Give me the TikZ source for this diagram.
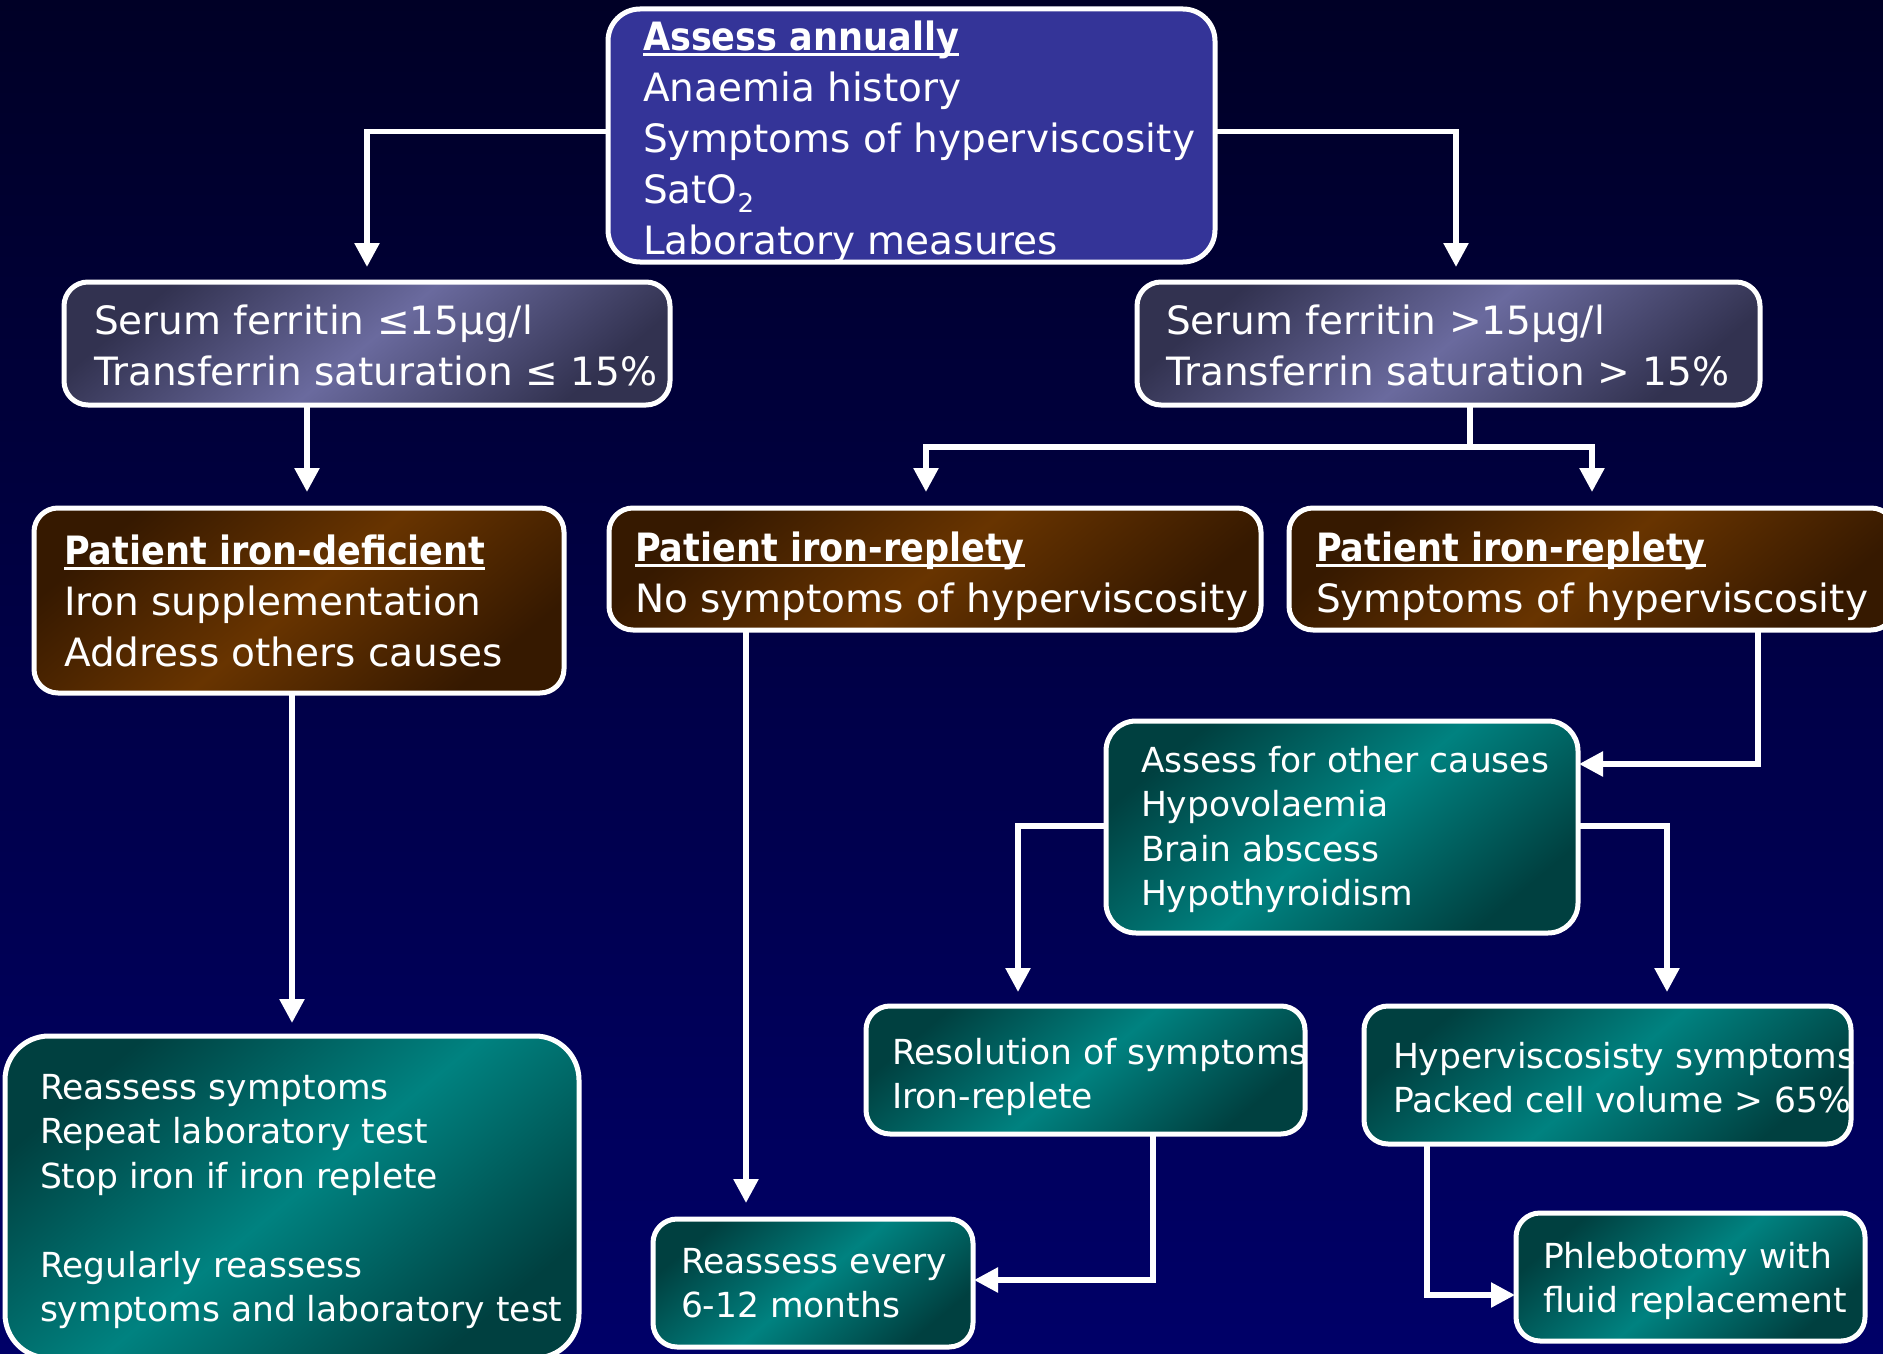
\documentclass[tikz,border=0pt]{standalone}
\usepackage{fontspec}
\usepackage{graphicx}
\setmainfont{DejaVu Sans}
\usetikzlibrary{arrows.meta,calc}
\newcommand\myul[1]{\setbox0\hbox{\scalebox{0.9}[1]{\bfseries #1}}\rlap{\rule[-6pt]{\wd0}{3pt}}\box0}
\newcommand\fbig{\fontsize{39}{51}\selectfont}
\newcommand\fsmall{\fontsize{34.5}{44.5}\selectfont}
\newcommand\subtwo{\raisebox{-9pt}{\fontsize{26}{26}\selectfont 2}}
\definecolor{bgtop}{RGB}{0,0,38}
\definecolor{bgbot}{RGB}{0,0,104}
\definecolor{topblue}{RGB}{52,52,152}
\definecolor{lavL}{RGB}{106,106,158}
\definecolor{lavD}{RGB}{50,50,80}
\definecolor{brL}{RGB}{104,52,0}
\definecolor{brD}{RGB}{54,25,0}
\definecolor{tlL}{RGB}{0,130,128}
\definecolor{tlD}{RGB}{0,64,64}
\begin{document}
\begin{tikzpicture}[x=1pt,y=-1pt,
  box/.style={draw=white, line width=5pt, rounded corners=24pt, anchor=north west, inner sep=0pt, outer sep=0pt},
  flatblue/.style={fill=topblue},
  lav/.style={top color=lavD, bottom color=lavD, middle color=lavL, shading angle=40},
  brn/.style={top color=brD, bottom color=brD, middle color=brL, shading angle=40},
  teal/.style={top color=tlD, bottom color=tlD, middle color=tlL, shading angle=40},
  txt/.style={anchor=north west, inner sep=0pt, outer sep=0pt, align=left, text=white},
  ln/.style={draw=white, line width=5.5pt, line join=miter},
  arr/.style={ln, -{Triangle[length=24pt,width=24pt]}}]

\shade[top color=bgtop, bottom color=bgbot] (0,0) rectangle (1883,1354);
\useasboundingbox (0,0) rectangle (1883,1354);

% boxes
\node[box,flatblue,rounded corners=32pt,minimum width=607pt,minimum height=253pt] (top) at (608,9) {};
\node[box,lav,minimum width=606pt,minimum height=123pt] (fl) at (64,282) {};
\node[box,lav,minimum width=623pt,minimum height=123pt] (fr) at (1137,282) {};
\node[box,brn,minimum width=530pt,minimum height=185pt] (idef) at (34,508) {};
\node[box,brn,minimum width=652pt,minimum height=122pt] (ir1) at (609,508) {};
\node[box,brn,minimum width=606pt,minimum height=122pt] (ir2) at (1289,508) {};
\node[box,teal,rounded corners=30pt,minimum width=472pt,minimum height=212pt] (aoc) at (1106,721) {};
\node[box,teal,minimum width=439pt,minimum height=128pt] (res) at (866,1006) {};
\node[box,teal,minimum width=487pt,minimum height=138pt] (hv) at (1364,1006) {};
\node[box,teal,rounded corners=44pt,minimum width=574pt,minimum height=322pt] (big) at (5,1036) {};
\node[box,teal,minimum width=320pt,minimum height=128pt] (rev) at (653,1219) {};
\node[box,teal,minimum width=349pt,minimum height=128pt] (phl) at (1516,1213) {};

% texts
\node[txt,font=\fbig] (topt) at (643,14.3) {\strut\myul{Assess annually}\\Anaemia history\\Symptoms of hyperviscosity\\SatO\subtwo\\Laboratory measures};
\node[txt,font=\fbig] (flt) at (94,298.3) {\strut Serum ferritin ≤15µg/l\\Transferrin saturation ≤ 15\%};
\node[txt,font=\fbig] (frt) at (1166,298.3) {\strut Serum ferritin >15µg/l\\Transferrin saturation > 15\%};
\node[txt,font=\fbig] (ideft) at (64,528.3) {\strut\myul{Patient iron-deficient}\\Iron supplementation\\Address others causes};
\node[txt,font=\fbig] (ir1t) at (635,525.3) {\strut\myul{Patient iron-replety}\\No symptoms of hyperviscosity};
\node[txt,font=\fbig] (ir2t) at (1316,525.3) {\strut\myul{Patient iron-replety}\\Symptoms of hyperviscosity};
\node[txt,font=\fsmall] (aoct) at (1141,740.9) {\strut Assess for other causes\\Hypovolaemia\\Brain abscess\\Hypothyroidism};
\node[txt,font=\fsmall] (rest) at (892,1032.9) {\strut Resolution of symptoms\\Iron-replete};
\node[txt,font=\fsmall] (hvt) at (1393,1036.9) {\strut Hyperviscosisty symptoms\\Packed cell volume > 65\%};
\node[txt,font=\fsmall] (bigt) at (40,1067.9) {\strut Reassess symptoms\\Repeat laboratory test\\Stop iron if iron replete\\[44.5pt]Regularly reassess\\symptoms and laboratory test};
\node[txt,font=\fsmall] (revt) at (681,1241.9) {\strut Reassess every\\6-12 months};
\node[txt,font=\fsmall] (phlt) at (1543,1236.9) {\strut Phlebotomy with\\fluid replacement};

% connectors
\coordinate (j1) at (1470,447);
\draw[arr,shorten >=15pt] ([yshift=4pt]top.west) -| (fl.north);
\draw[arr,shorten >=15pt] ([yshift=4pt]top.east) -| ([xshift=7.5pt]fr.north);
\draw[arr,shorten >=16pt] (307,0 |- fl.south) -- (307,0 |- idef.north);
\draw[ln] (1470,0 |- fr.south) -- (j1);
\draw[arr,shorten >=16pt] (j1) -| (926,0 |- ir1.north);
\draw[arr,shorten >=16pt] (j1) -| (1592,0 |- ir2.north);
\draw[arr,shorten >=13pt] (292,0 |- idef.south) -- (292,0 |- big.north);
\draw[arr,shorten >=16pt] (746,0 |- ir1.south) -- (746,0 |- rev.north);
\draw[arr,shorten >=1pt] (1758,0 |- ir2.south) |- (aoc.east |- 0,764);
\draw[arr,shorten >=14pt] (aoc.west |- 0,826) -| (1018,0 |- res.north);
\draw[arr,shorten >=14pt] (aoc.east |- 0,826) -| (1667,0 |- hv.north);
\draw[arr,shorten >=1pt] (1153,0 |- res.south) |- (rev.east |- 0,1280);
\draw[arr,shorten >=1pt] (1427,0 |- hv.south) |- (phl.west |- 0,1295);
\end{tikzpicture}
\end{document}
